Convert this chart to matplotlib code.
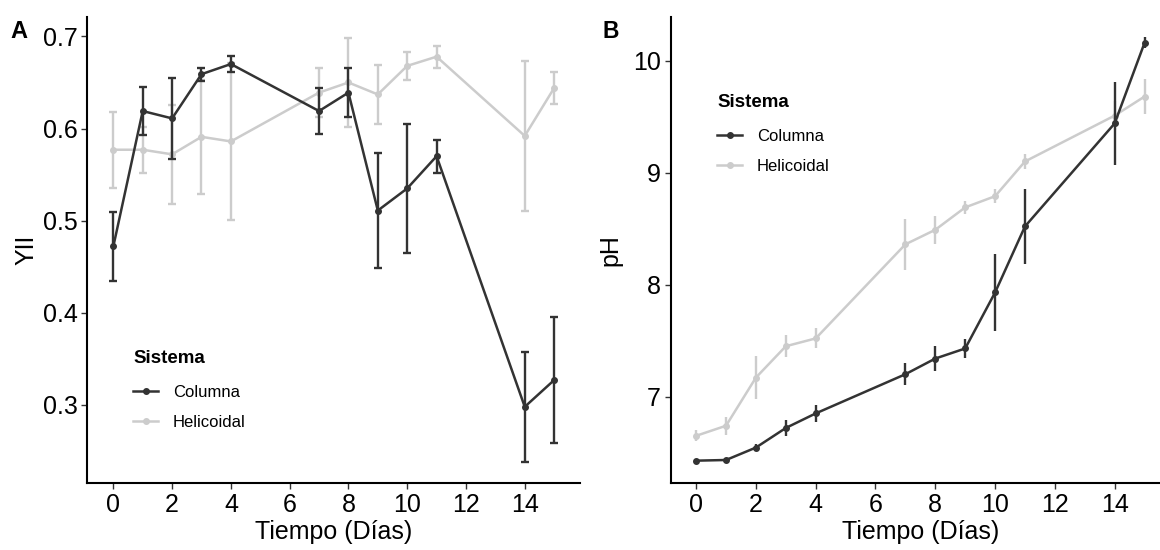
import matplotlib
matplotlib.use("Agg")
import matplotlib.pyplot as plt
import numpy as np

plt.rcParams['font.family'] = ['Liberation Sans', 'DejaVu Sans']

# Sampling days
dias = [0, 1, 2, 3, 4, 7, 8, 9, 10, 11, 14, 15]

# Photosynthetic yield (YII), mean and error
yii_columna = [0.472, 0.619, 0.611, 0.659, 0.670, 0.619, 0.639, 0.511, 0.535, 0.570, 0.298, 0.327]
yii_columna_err = [0.037, 0.026, 0.044, 0.007, 0.009, 0.025, 0.027, 0.062, 0.070, 0.018, 0.060, 0.068]
yii_helicoidal = [0.577, 0.577, 0.572, 0.591, 0.586, 0.639, 0.650, 0.637, 0.668, 0.678, 0.592, 0.644]
yii_helicoidal_err = [0.041, 0.025, 0.054, 0.062, 0.085, 0.027, 0.048, 0.032, 0.015, 0.012, 0.081, 0.017]

# pH, mean and error
ph_columna = [6.428, 6.434, 6.545, 6.72, 6.85, 7.20, 7.34, 7.43, 7.93, 8.52, 9.44, 10.16]
ph_columna_err = [0.01, 0.01, 0.03, 0.074, 0.075, 0.10, 0.11, 0.085, 0.34, 0.335, 0.37, 0.05]
ph_helicoidal = [6.65, 6.74, 7.17, 7.45, 7.52, 8.36, 8.49, 8.69, 8.79, 9.10, 9.51, 9.68]
ph_helicoidal_err = [0.05, 0.08, 0.19, 0.10, 0.09, 0.23, 0.125, 0.06, 0.065, 0.07, 0.13, 0.16]

COL_DARK = '#333333'
COL_LIGHT = '#cccccc'

fig = plt.figure(figsize=(11.6, 5.5), dpi=100)
ax_a = fig.add_axes([0.0754, 0.1213, 0.4246, 0.8477])
ax_b = fig.add_axes([0.5782, 0.1213, 0.4304, 0.8477])


def draw_panel(ax, col, col_err, hel, hel_err, capsize):
    # helicoidal underneath, columna on top
    for vals, errs, color, name, z in [(hel, hel_err, COL_LIGHT, 'Helicoidal', 2),
                                        (col, col_err, COL_DARK, 'Columna', 3)]:
        ax.errorbar(dias, vals, yerr=errs, fmt='none', ecolor=color,
                    elinewidth=1.7, capsize=capsize, capthick=1.7, zorder=z)
        ax.plot(dias, vals, color=color, lw=1.8, marker='o', markersize=4,
                label=name, zorder=z + 0.5)
    for side in ['top', 'right']:
        ax.spines[side].set_visible(False)
    for side in ['left', 'bottom']:
        ax.spines[side].set_linewidth(1.5)
        ax.spines[side].set_color('black')
    ax.set_xticks(np.arange(0, 15, 2))
    ax.tick_params(axis='both', labelsize=18, length=4, width=1,
                   color='#333333', labelcolor='black', pad=3)
    ax.set_xlabel('Tiempo (Días)', fontsize=18, labelpad=2)


draw_panel(ax_a, yii_columna, yii_columna_err, yii_helicoidal, yii_helicoidal_err, 3)
ax_a.set_xlim(-0.88, 15.88)
ax_a.set_ylim(0.215, 0.721)
ax_a.set_yticks([0.3, 0.4, 0.5, 0.6, 0.7])
ax_a.set_yticklabels(['0.3', '0.4', '0.5', '0.6', '0.7'])
ax_a.set_ylabel('YII', fontsize=18, labelpad=3)

draw_panel(ax_b, ph_columna, ph_columna_err, ph_helicoidal, ph_helicoidal_err, 0)
ax_b.set_xlim(-0.85, 15.85)
ax_b.set_ylim(6.226, 10.39)
ax_b.set_yticks([7, 8, 9, 10])
ax_b.set_ylabel('pH', fontsize=18, labelpad=8)


def add_legend(ax, x, y):
    handles, labels = ax.get_legend_handles_labels()
    order = [labels.index('Columna'), labels.index('Helicoidal')]
    leg = ax.legend([handles[i] for i in order], [labels[i] for i in order],
                    title='Sistema', loc='upper left',
                    bbox_to_anchor=(x / 1160, 1 - y / 550),
                    bbox_transform=fig.transFigure, frameon=False,
                    fontsize=12, title_fontproperties={'weight': 'bold', 'size': 13.5},
                    alignment='left', handlelength=1.5, handletextpad=0.9,
                    labelspacing=0.9, borderpad=0, borderaxespad=0)
    # a little more room between the title and the entries
    leg._legend_box.sep = 0.9 * 12 + 2
    return leg


add_legend(ax_a, 133, 350)
add_legend(ax_b, 717, 94)

fig.text(10 / 1160, 1 - 32 / 550, 'A', fontsize=17, fontweight='bold', va='center', ha='left')
fig.text(602 / 1160, 1 - 31 / 550, 'B', fontsize=16.5, fontweight='bold', va='center', ha='left')

fig.savefig('out.png', dpi=100)
